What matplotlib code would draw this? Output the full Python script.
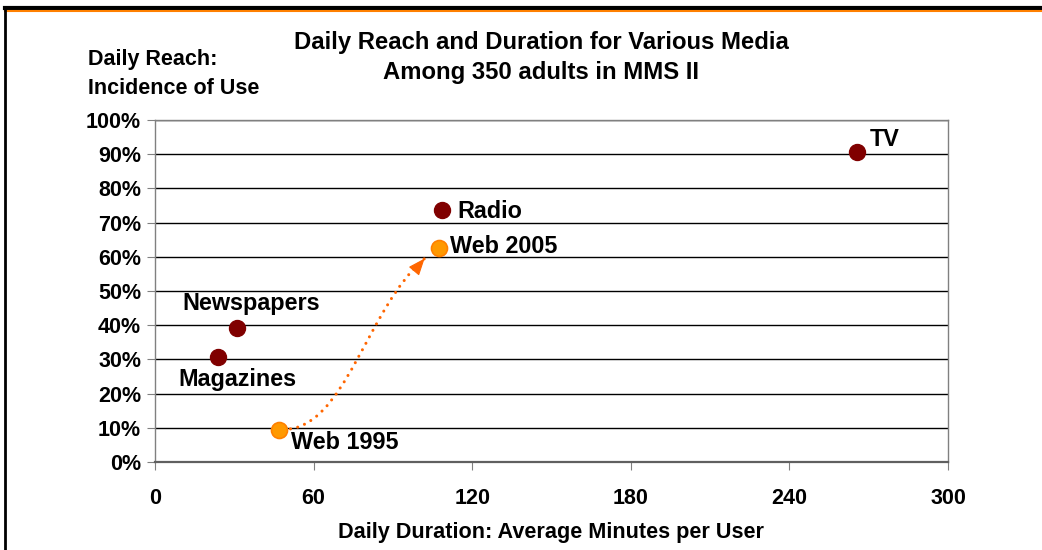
import matplotlib
matplotlib.use("Agg")
import matplotlib.pyplot as plt
from matplotlib.lines import Line2D
from matplotlib.patches import PathPatch
from matplotlib.path import Path
import matplotlib.ticker as mticker

# media: daily duration (minutes) and daily reach (%)
media = ["TV", "Radio", "Newspapers", "Magazines"]
minutes = [265.5, 108.5, 31.0, 24.0]
reach = [90.7, 73.6, 39.2, 30.8]

web_years = ["Web 1995", "Web 2005"]
web_minutes = [47.0, 107.5]
web_reach = [9.3, 62.5]

x_ticks = [0, 60, 120, 180, 240, 300]
y_ticks = list(range(0, 101, 10))

# label offsets in pixels (dx, dy, ha)
label_offsets = {
    "TV": (13, 12, "left"),
    "Radio": (16, -1, "left"),
    "Newspapers": (14, 24, "center"),
    "Magazines": (-40, -23, "left"),
    "Web 1995": (12, -12, "left"),
    "Web 2005": (11, 2, "left"),
}

plt.rcParams["font.family"] = ["Liberation Sans", "DejaVu Sans"]
plt.rcParams["font.weight"] = "bold"

fig = plt.figure(figsize=(10.42, 5.5), dpi=100)
ax = fig.add_axes([155 / 1042, 88 / 550, 793 / 1042, 342 / 550])

ax.set_xlim(0, 300)
ax.set_ylim(0, 100)
ax.xaxis.set_major_locator(mticker.FixedLocator(x_ticks))
ax.yaxis.set_major_locator(mticker.FixedLocator(y_ticks))
ax.yaxis.set_major_formatter(mticker.FuncFormatter(lambda v, p: "%d%%" % v))

ax.grid(axis="y", color="black", linewidth=1.0)
ax.set_axisbelow(True)
for side in ["top", "right", "left", "bottom"]:
    ax.spines[side].set_color("#808080")
    ax.spines[side].set_linewidth(1.0)
ax.spines["bottom"].set_linewidth(1.6)
ax.spines["bottom"].set_color("#606060")
ax.tick_params(axis="both", direction="out", length=6, color="#808080",
               labelsize=15.5)
ax.tick_params(axis="x", pad=13)
ax.tick_params(axis="y", pad=4)
for lbl in ax.get_xticklabels() + ax.get_yticklabels():
    lbl.set_fontweight("bold")

# curved dotted arrow from 1995 to 2005 web usage
start = (web_minutes[0] + 1.5, web_reach[0] + 0.2)
tip = (web_minutes[1] - 5.5, web_reach[1] - 3)
verts = [start, (72, 9.5), (80, 45), tip]
codes = [Path.MOVETO, Path.CURVE4, Path.CURVE4, Path.CURVE4]
curve = PathPatch(Path(verts, codes), fill=False, edgecolor="#FF6600",
                  linewidth=2.2, linestyle=(0, (0.01, 2.4)), capstyle="round",
                  zorder=3)
ax.add_patch(curve)
ax.annotate("", xy=tip, xytext=(tip[0] - 0.6, tip[1] - 0.55),
            arrowprops=dict(arrowstyle="-|>,head_length=0.7,head_width=0.28",
                            mutation_scale=15, color="#FF6600", lw=0.8,
                            shrinkA=0, shrinkB=0), zorder=3)

ax.plot(minutes, reach, "o", color="#800000", markersize=11.5,
        markeredgecolor="#800000", zorder=4, clip_on=False)
ax.plot(web_minutes, web_reach, "o", color="#FF9900", markersize=11.5,
        markeredgecolor="#FF8000", markeredgewidth=1.2, zorder=4, clip_on=False)

for name, x, y in list(zip(media, minutes, reach)) + list(zip(web_years, web_minutes, web_reach)):
    dx, dy, ha = label_offsets[name]
    ax.annotate(name, (x, y), xytext=(dx, dy), textcoords="offset pixels",
                ha=ha, va="center", fontsize=16.8, fontweight="bold")

ax.set_xlabel("Daily Duration: Average Minutes per User", fontsize=15.6,
              fontweight="bold", labelpad=9)

fig.text(541 / 1042, 1 - 43 / 550, "Daily Reach and Duration for Various Media",
         ha="center", va="center", fontsize=17.2, fontweight="bold")
fig.text(541 / 1042, 1 - 73 / 550, "Among 350 adults in MMS II",
         ha="center", va="center", fontsize=17.2, fontweight="bold")
fig.text(88 / 1042, 1 - 60 / 550, "Daily Reach:", ha="left", va="center",
         fontsize=15.5, fontweight="bold")
fig.text(88 / 1042, 1 - 88 / 550, "Incidence of Use", ha="left", va="center",
         fontsize=15.5, fontweight="bold")

# slide frame: black and orange rule at top, black rule at left
fig.add_artist(Line2D([5 / 1042, 1], [1 - 8 / 550, 1 - 8 / 550],
                      color="black", linewidth=3.0))
fig.add_artist(Line2D([5 / 1042, 1], [1 - 11 / 550, 1 - 11 / 550],
                      color="#FF8000", linewidth=1.5))
fig.add_artist(Line2D([5 / 1042, 5 / 1042], [0, 1 - 8 / 550],
                      color="black", linewidth=2.0))

fig.savefig("out.png", dpi=100)
